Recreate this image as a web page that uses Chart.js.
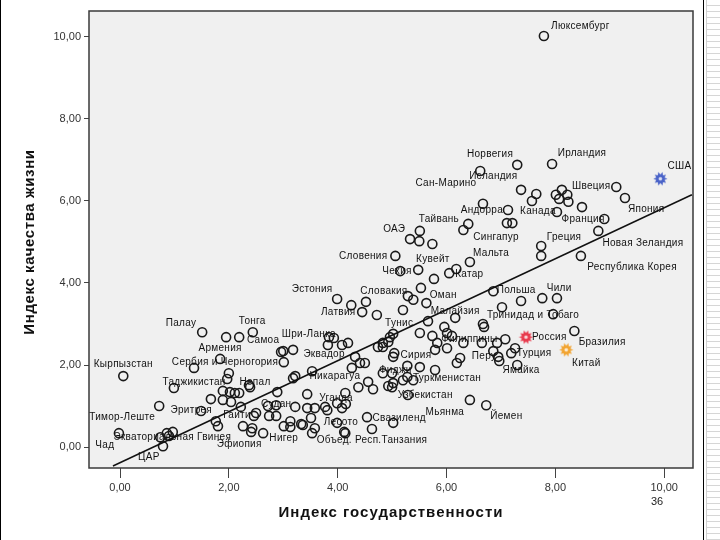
<!DOCTYPE html>
<html lang="ru">
<head>
<meta charset="UTF-8">
<title>Индекс государственности и качество жизни</title>
<script src="https://cdn.jsdelivr.net/npm/chart.js"></script>
<style>
  body { margin: 0; background: #fff; }
  .slide { position: relative; width: 720px; height: 540px; overflow: hidden; }
  canvas { position: absolute; left: 0; top: 0; }
  .edge-left { position: absolute; left: 0; top: 0; width: 1px; height: 540px; background: #000; }
  .edge-right { position: absolute; left: 703px; top: 0; width: 1px; height: 540px; background: #000; }
  .strip {
    position: absolute; left: 706px; top: 0; width: 14px; height: 540px;
    border-left: 1px solid #d0d0d0;
    background: repeating-linear-gradient(to bottom, #fff 0 5px, #d6d6d6 5px 6px);
  }
</style>
</head>
<body>
<div class="slide">
  <canvas id="chart" width="720" height="540"></canvas>
  <div class="edge-left"></div>
  <div class="edge-right"></div>
  <div class="strip"></div>
</div>
<script>
// axis ticks
const xTicks = [0, 2, 4, 6, 8, 10];
const yTicks = [0, 2, 4, 6, 8, 10];

// countries: state index (x) and quality of life index (y)
const stateIdx = [
  7.79, 6.62, 7.30, 7.94, 7.37, 7.65, 7.57, 8.12, 8.01, 8.22,
  8.07, 8.24, 8.49, 9.12, 9.28, 6.67, 7.13, 8.03, 8.90, 6.40,
  6.31, 7.11, 7.21, 8.79, 7.74, 7.74, 8.47, 5.51, 5.33, 5.50,
  5.74, 5.06, 6.43, 5.15, 5.48, 5.77, 6.05, 6.18, 5.53, 5.29,
  5.39, 5.63, 3.99, 4.25, 4.52, 4.45, 4.72, 5.20, 6.86, 7.37,
  7.76, 8.03, 7.02, 7.96, 6.16, 5.66, 6.67, 6.69, 5.96, 5.51,
  5.74, 6.01, 6.10, 5.83, 6.01, 5.79, 6.31, 5.02, 4.93, 4.83,
  4.83, 4.96, 4.74, 6.65, 6.93, 7.08, 6.86, 6.95, 6.97, 7.19,
  7.26, 8.35, 7.30, 6.25, 6.19, 5.04, 5.02, 5.51, 5.28, 5.79,
  4.83, 5.00, 5.28, 5.39, 5.20, 5.02, 5.00, 4.93, 5.29, 6.43,
  6.73, 5.02, 4.54, 4.63, 4.14, 3.84, 3.82, 4.08, 4.19, 3.93,
  4.32, 4.41, 4.50, 3.53, 4.26, 4.56, 4.38, 4.65, 3.44, 4.14,
  3.99, 4.08, 4.15, 3.77, 3.81, 3.44, 3.58, 3.51, 3.36, 3.58,
  3.53, 3.99, 4.12, 1.51, 1.95, 2.19, 2.44, 3.00, 2.96, 3.18,
  3.01, 1.84, 1.36, 2.00, 1.97, 3.22, 3.18, 2.37, 2.39, 0.99,
  1.89, 2.02, 2.11, 2.19, 2.89, 1.67, 1.89, 2.04, 0.72, 1.49,
  2.22, 2.50, 2.46, 2.72, 2.87, 3.22, 2.74, 2.87, 3.13, 3.33,
  3.01, 3.13, 1.76, 1.80, 2.26, 2.43, 2.41, 2.63, 0.06, -0.02,
  0.86, 0.97, 0.74, 0.90, 0.79
];
const qualityIdx = [
  10.02, 6.73, 6.88, 6.90, 6.27, 6.17, 6.00, 6.27, 6.15, 6.15,
  6.05, 5.98, 5.85, 6.34, 6.07, 5.93, 5.78, 5.73, 5.56, 5.44,
  5.29, 5.46, 5.46, 5.27, 4.90, 4.66, 4.66, 5.27, 5.07, 5.02,
  4.95, 4.66, 4.51, 4.29, 4.32, 4.10, 4.24, 4.34, 3.88, 3.68,
  3.59, 3.51, 3.61, 3.46, 3.54, 3.29, 3.22, 3.34, 3.80, 3.56,
  3.63, 3.63, 3.41, 3.24, 3.15, 3.07, 3.00, 2.93, 2.93, 2.78,
  2.71, 2.78, 2.71, 2.54, 2.41, 2.37, 2.54, 2.76, 2.56, 2.54,
  2.44, 2.68, 2.44, 2.54, 2.54, 2.63, 2.34, 2.20, 2.10, 2.29,
  2.41, 2.83, 2.00, 2.17, 2.05, 2.29, 2.20, 1.95, 1.98, 1.88,
  1.80, 1.80, 1.71, 1.63, 1.63, 1.56, 1.46, 1.49, 1.27, 1.15,
  1.02, 0.59, 0.73, 0.44, 0.34, 2.68, 2.49, 2.49, 2.54, 2.66,
  2.20, 2.05, 2.05, 1.85, 1.93, 1.59, 1.46, 1.41, 1.29, 1.32,
  1.07, 0.95, 1.05, 0.98, 0.90, 0.95, 0.95, 0.71, 0.54, 0.46,
  0.34, 0.59, 0.37, 2.80, 2.68, 2.68, 2.80, 2.34, 2.32, 2.37,
  2.07, 2.15, 1.93, 1.80, 1.66, 1.73, 1.68, 1.51, 1.46, 1.44,
  1.37, 1.34, 1.32, 1.32, 1.34, 1.17, 1.15, 1.10, 1.00, 0.88,
  0.98, 0.83, 0.76, 1.00, 1.02, 0.98, 0.76, 0.76, 0.63, 0.56,
  0.51, 0.49, 0.63, 0.51, 0.51, 0.46, 0.37, 0.34, 1.73, 0.34,
  0.34, 0.37, 0.24, 0.27, 0.02
];

// highlighted countries
const starNames = ['США', 'Россия', 'Китай'];
const starX = [9.93, 7.46, 8.20];
const starY = [6.54, 2.68, 2.37];
const starColors = ['#4a63c8', '#e8394c', '#f2a431'];

// fit line end points
const fitX = [-0.13, 10.51];
const fitY = [-0.46, 6.15];

// country name labels, anchored at their centres in data units
const labelNames = [
  'Люксембург', 'Норвегия', 'Ирландия', 'США', 'Исландия', 'Швеция', 'Сан-Марино',
  'Андорра', 'Канада', 'Япония', 'Франция', 'Тайвань', 'ОАЭ', 'Сингапур', 'Греция',
  'Новая Зеландия', 'Мальта', 'Словения', 'Кувейт', 'Республика Корея', 'Чехия',
  'Катар', 'Эстония', 'Словакия', 'Польша', 'Чили', 'Оман', 'Латвия', 'Малайзия',
  'Тринидад и Тобаго', 'Палау', 'Тонга', 'Тунис', 'Самоа', 'Шри-Ланка', 'Филиппины',
  'Россия', 'Бразилия', 'Армения', 'Эквадор', 'Сирия', 'Перу', 'Турция',
  'Сербия и Черногория', 'Кырпызстан', 'Китай', 'Ямайка', 'Никарагуа', 'Фиджи',
  'Туркменистан', 'Таджикистан', 'Непал', 'Узбекистан', 'Уганда', 'Судан', 'Эритрея',
  'Мьянма', 'Гаити', 'Тимор-Леште', 'Йемен', 'Свазиленд', 'Лесото',
  'Экваториальная Гвинея', 'Нигер', 'Чад', 'Эфиопия', 'Объед. Респ.Танзания', 'ЦАР'
];
const labelX = [
  8.46, 6.80, 8.49, 10.28, 6.86, 8.66, 5.99,
  6.65, 7.68, 9.67, 8.51, 5.86, 5.04, 6.91, 8.16,
  9.61, 6.82, 4.47, 5.75, 9.41, 5.09,
  6.42, 3.53, 4.85, 7.28, 8.07, 5.94, 4.01, 6.16,
  7.59, 1.12, 2.43, 5.13, 2.63, 3.47, 6.42,
  7.89, 8.86, 1.84, 3.75, 5.44, 6.69, 7.61,
  1.93, 0.06, 8.57, 7.37, 3.95, 5.06,
  6.01, 1.36, 2.48, 5.61, 3.97, 2.87, 1.31,
  5.97, 2.15, 0.04, 7.10, 5.13, 4.06,
  0.96, 3.01, -0.28, 2.19, 4.63, 0.53
];
const labelY = [
  10.27, 7.15, 7.17, 6.85, 6.59, 6.37, 6.44,
  5.78, 5.76, 5.80, 5.56, 5.56, 5.32, 5.12, 5.12,
  4.98, 4.73, 4.66, 4.59, 4.39, 4.29,
  4.22, 3.85, 3.80, 3.83, 3.88, 3.71, 3.29, 3.32,
  3.22, 3.02, 3.07, 3.02, 2.61, 2.76, 2.63,
  2.68, 2.56, 2.41, 2.27, 2.24, 2.22, 2.29,
  2.07, 2.02, 2.05, 1.88, 1.73, 1.88,
  1.68, 1.59, 1.59, 1.27, 1.20, 1.05, 0.90,
  0.85, 0.78, 0.73, 0.76, 0.71, 0.61,
  0.24, 0.22, 0.05, 0.07, 0.17, -0.24
];

const FONT = '"Liberation Sans", Arial, sans-serif';

function fmt(v) {
  return v.toFixed(2).replace('.', ',');
}

// gear-like star marker used for the highlighted countries
function makeStar(color) {
  const c = document.createElement('canvas');
  c.width = 15; c.height = 15;
  const g = c.getContext('2d');
  g.translate(7.5, 7.5);
  g.beginPath();
  const n = 10;
  for (let i = 0; i < n * 2; i++) {
    const r = i % 2 ? 4.3 : 7;
    const a = i * Math.PI / n;
    g.lineTo(r * Math.cos(a), r * Math.sin(a));
  }
  g.closePath();
  g.fillStyle = color;
  g.fill();
  g.beginPath();
  g.arc(0, 0, 1.8, 0, Math.PI * 2);
  g.fillStyle = 'rgba(255,255,255,0.8)';
  g.fill();
  return c;
}

const plotFrame = {
  id: 'plotFrame',
  beforeDatasetsDraw(chart) {
    const { ctx, chartArea: a } = chart;
    ctx.save();
    ctx.fillStyle = '#f0f0f0';
    ctx.fillRect(a.left, a.top, a.right - a.left, a.bottom - a.top);
    ctx.restore();
  },
  afterDatasetsDraw(chart) {
    const { ctx, chartArea: a } = chart;
    ctx.save();
    ctx.strokeStyle = '#3a3a3a';
    ctx.lineWidth = 1.5;
    ctx.strokeRect(a.left, a.top, a.right - a.left, a.bottom - a.top);
    ctx.restore();
  }
};

const countryLabels = {
  id: 'countryLabels',
  afterDatasetsDraw(chart) {
    const { ctx, chartArea: a, scales } = chart;
    ctx.save();
    ctx.beginPath();
    ctx.rect(a.left, a.top, a.right - a.left, a.bottom - a.top);
    ctx.clip();
    ctx.font = '10px ' + FONT;
    ctx.letterSpacing = '0.3px';
    ctx.fillStyle = '#111';
    ctx.textAlign = 'center';
    ctx.textBaseline = 'middle';
    labelNames.forEach((name, i) => {
      ctx.fillText(name, scales.x.getPixelForValue(labelX[i]), scales.y.getPixelForValue(labelY[i]));
    });
    ctx.restore();
  }
};

const titles = {
  id: 'titles',
  afterDraw(chart) {
    const ctx = chart.ctx;
    ctx.save();
    ctx.fillStyle = '#111';
    ctx.textAlign = 'center';
    ctx.textBaseline = 'middle';
    ctx.font = 'bold 15px ' + FONT;
    ctx.letterSpacing = '1px';
    ctx.fillText('Индекс государственности', 391, 513);
    ctx.letterSpacing = '0.6px';
    ctx.translate(30, 242);
    ctx.rotate(-Math.PI / 2);
    ctx.fillText('Индекс качества жизни', 0, 0);
    ctx.restore();
    ctx.save();
    ctx.fillStyle = '#222';
    ctx.font = '11px ' + FONT;
    ctx.textAlign = 'center';
    ctx.textBaseline = 'middle';
    ctx.fillText('36', 657, 502);
    ctx.restore();
  }
};

new Chart(document.getElementById('chart'), {
  type: 'scatter',
  data: {
    datasets: [
      {
        label: 'Линия регрессии',
        data: fitX.map((x, i) => ({ x: x, y: fitY[i] })),
        showLine: true,
        borderColor: '#111',
        borderWidth: 1.5,
        pointRadius: 0
      },
      {
        label: 'Страны',
        data: stateIdx.map((x, i) => ({ x: x, y: qualityIdx[i] })),
        pointStyle: 'circle',
        pointRadius: 4.5,
        borderWidth: 1.6,
        borderColor: '#1a1a1a',
        backgroundColor: 'rgba(0,0,0,0)'
      },
      {
        label: 'Выделенные',
        data: starX.map((x, i) => ({ x: x, y: starY[i] })),
        pointStyle: starColors.map(makeStar),
        pointRadius: 7
      }
    ]
  },
  options: {
    responsive: false,
    animation: false,
    layout: { padding: { left: 0, top: 11, right: 27, bottom: 0 } },
    plugins: { legend: { display: false }, tooltip: { enabled: false } },
    scales: {
      x: {
        type: 'linear',
        min: -0.57,
        max: 10.53,
        afterBuildTicks: s => { s.ticks = xTicks.map(v => ({ value: v })); },
        afterFit: s => { s.height = 72; },
        border: { display: false },
        grid: { drawOnChartArea: false, tickLength: 10, color: '#444' },
        ticks: {
          padding: 3,
          maxRotation: 0,
          color: '#333',
          font: { family: FONT, size: 11 },
          callback: v => fmt(v)
        }
      },
      y: {
        type: 'linear',
        min: -0.51,
        max: 10.63,
        afterBuildTicks: s => { s.ticks = yTicks.map(v => ({ value: v })); },
        afterFit: s => { s.width = 89; },
        border: { display: false },
        grid: { drawOnChartArea: false, tickLength: 5, color: '#444' },
        ticks: {
          padding: 3,
          color: '#333',
          font: { family: FONT, size: 11 },
          callback: v => fmt(v)
        }
      }
    }
  },
  plugins: [plotFrame, countryLabels, titles]
});
</script>
</body>
</html>
